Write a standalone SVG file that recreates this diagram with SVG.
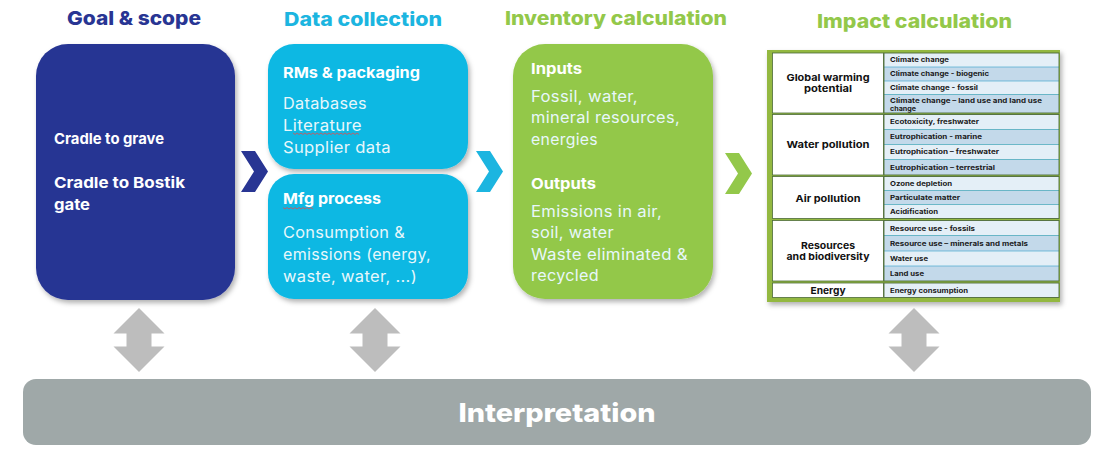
<svg xmlns="http://www.w3.org/2000/svg" width="1103" height="461" viewBox="0 0 1103 461">
<style>
text{font-family:"Inter","Open Sans","Liberation Sans",sans-serif}
.ti{font-size:19px;font-weight:800}
.h{font-size:15px;font-weight:700;fill:#fff}
.b{font-size:15.5px;fill:#e8f7fb;letter-spacing:.3px}
.c{font-size:9.5px;font-weight:700;fill:#111;text-anchor:middle}
.r{font-size:6.8px;font-weight:700;fill:#1a1a1a}
.l1{fill:#e4eff7}.l2{fill:#c3d9ea}
.sep{stroke:#2f9fc9;stroke-width:.6}
.ar{fill:#bdbdbd}
.sq{fill:none;stroke:#b8626c;stroke-width:1}
</style>
<defs>
<filter id="sh" x="-10%" y="-10%" width="125%" height="125%"><feDropShadow dx="2" dy="3" stdDeviation="2.500" flood-color="#000" flood-opacity=".3"/></filter>
<path id="udd" d="M0 0L25.500 25.500H12.500V38.500H25.500L0 64L-25.500 38.500H-12.500V25.500H-25.500Z"/>
<path id="chev" d="M0 0H14L27 20.500L14 41H0L13 20.500Z"/>
</defs>
<rect width="1103" height="461" fill="#fff"/>

<g id="titles">
<text class="ti" x="67" y="25" fill="#283593" textLength="134" lengthAdjust="spacingAndGlyphs">Goal &amp; scope</text>
<text class="ti" x="284" y="25.500" fill="#1cb5e0" textLength="158" lengthAdjust="spacingAndGlyphs">Data collection</text>
<text class="ti" x="505" y="25" fill="#93c84a" textLength="222" lengthAdjust="spacingAndGlyphs">Inventory calculation</text>
<text class="ti" x="817" y="28" fill="#93c84a" textLength="195" lengthAdjust="spacingAndGlyphs">Impact calculation</text>
</g>

<g id="goal-scope">
<rect x="36" y="44" width="199" height="256" rx="32" fill="#283593" filter="url(#sh)"/>
<text class="h" x="54" y="144" textLength="110" lengthAdjust="spacingAndGlyphs">Cradle to grave</text>
<text class="h" x="54" y="188" textLength="131" lengthAdjust="spacingAndGlyphs">Cradle to Bostik</text>
<text class="h" x="54" y="210" textLength="36" lengthAdjust="spacingAndGlyphs">gate</text>
</g>

<g id="rms-packaging">
<rect x="268" y="44" width="200" height="125" rx="26" fill="#0cb8e3" filter="url(#sh)"/>
<text class="h" x="283" y="78" textLength="137" lengthAdjust="spacingAndGlyphs">RMs &amp; packaging</text>
<text class="b" x="283" y="109" textLength="84" lengthAdjust="spacingAndGlyphs">Databases</text>
<text class="b" x="283" y="131" textLength="79" lengthAdjust="spacingAndGlyphs">Literature</text>
<path class="sq" d="M293 133l2 1.500 2-1.500 2 1.500 2-1.500 2 1.500 2-1.500 2 1.500 2-1.500 2 1.500 2-1.500 2 1.500 2-1.500 2 1.500 2-1.500 2 1.500 2-1.500 2 1.500 2-1.500 2 1.500 2-1.500 2 1.500 2-1.500 2 1.500 2-1.500 2 1.500 2-1.500 2 1.500 2-1.500 2 1.500 2-1.500 2 1.500 2-1.500 2 1.500"/>
<text class="b" x="283" y="153" textLength="108" lengthAdjust="spacingAndGlyphs">Supplier data</text>
</g>

<g id="mfg-process">
<rect x="268" y="174" width="200" height="125" rx="26" fill="#0cb8e3" filter="url(#sh)"/>
<text class="h" x="283" y="204" textLength="98" lengthAdjust="spacingAndGlyphs">Mfg process</text>
<path class="sq" d="M283 207.500l2 1.500 2-1.500 2 1.500 2-1.500 2 1.500 2-1.500 2 1.500 2-1.500 2 1.500 2-1.500 2 1.500 2-1.500 2 1.500 2-1.500 2 1.500"/>
<text class="b" x="283" y="238" textLength="122" lengthAdjust="spacingAndGlyphs">Consumption &amp;</text>
<text class="b" x="283" y="260" textLength="148" lengthAdjust="spacingAndGlyphs">emissions (energy,</text>
<text class="b" x="283" y="282" textLength="134" lengthAdjust="spacingAndGlyphs">waste, water, ...)</text>
</g>

<g id="inventory">
<rect x="513" y="44" width="200" height="255" rx="32" fill="#93c84a" filter="url(#sh)"/>
<text class="h" x="531" y="73.500" textLength="51" lengthAdjust="spacingAndGlyphs">Inputs</text>
<text class="b" x="531" y="102" textLength="107" lengthAdjust="spacingAndGlyphs">Fossil, water,</text>
<text class="b" x="531" y="123" textLength="149" lengthAdjust="spacingAndGlyphs">mineral resources,</text>
<text class="b" x="531" y="145" textLength="67" lengthAdjust="spacingAndGlyphs">energies</text>
<text class="h" x="531" y="188.500" textLength="65" lengthAdjust="spacingAndGlyphs">Outputs</text>
<text class="b" x="531" y="217" textLength="131" lengthAdjust="spacingAndGlyphs">Emissions in air,</text>
<text class="b" x="531" y="238" textLength="83" lengthAdjust="spacingAndGlyphs">soil, water</text>
<text class="b" x="531" y="260" textLength="157" lengthAdjust="spacingAndGlyphs">Waste eliminated &amp;</text>
<text class="b" x="531" y="281" textLength="68" lengthAdjust="spacingAndGlyphs">recycled</text>
</g>

<g id="impact-table">
<rect x="767" y="50" width="293" height="252" fill="#93b83f" filter="url(#sh)"/>
<g fill="#fff" stroke="#4d6b3a" stroke-width=".8">
<rect x="772.500" y="53" width="111" height="60"/>
<rect x="772.500" y="114.500" width="111" height="60.500"/>
<rect x="772.500" y="176.500" width="111" height="42"/>
<rect x="772.500" y="220.500" width="111" height="60.500"/>
<rect x="772.500" y="283" width="111" height="14.500"/>
</g>
<rect class="l1" x="884" y="53" width="175" height="14"/><rect class="l2" x="884" y="67" width="175" height="14"/>
<rect class="l1" x="884" y="81" width="175" height="13.500"/><rect class="l2" x="884" y="94.500" width="175" height="18.500"/>
<rect class="l1" x="884" y="114.500" width="175" height="15"/><rect class="l2" x="884" y="129.500" width="175" height="15"/>
<rect class="l1" x="884" y="144.500" width="175" height="15"/><rect class="l2" x="884" y="159.500" width="175" height="15.500"/>
<rect class="l1" x="884" y="176.500" width="175" height="14"/><rect class="l2" x="884" y="190.500" width="175" height="14"/>
<rect class="l1" x="884" y="204.500" width="175" height="14"/>
<rect class="l1" x="884" y="220.500" width="175" height="15"/><rect class="l2" x="884" y="235.500" width="175" height="15.500"/>
<rect class="l1" x="884" y="251" width="175" height="15"/><rect class="l2" x="884" y="266" width="175" height="15"/>
<rect class="l1" x="884" y="283" width="175" height="14.500"/>
<g class="sep">
<path d="M884 67H1059M884 81H1059M884 94.500H1059M884 129.500H1059M884 144.500H1059M884 159.500H1059M884 190.500H1059M884 204.500H1059M884 235.500H1059M884 251H1059M884 266H1059"/>
</g>
<g fill="none" stroke="#4d6b3a" stroke-width=".9">
<rect x="884" y="53" width="175" height="60"/><rect x="884" y="114.500" width="175" height="60.500"/>
<rect x="884" y="176.500" width="175" height="42"/><rect x="884" y="220.500" width="175" height="60.500"/><rect x="884" y="283" width="175" height="14.500"/>
</g>
<text class="c" x="828" y="80.500" textLength="83" lengthAdjust="spacingAndGlyphs">Global warming</text><text class="c" x="828" y="91.500" textLength="48" lengthAdjust="spacingAndGlyphs">potential</text>
<text class="c" x="828" y="148" textLength="83" lengthAdjust="spacingAndGlyphs">Water pollution</text>
<text class="c" x="828" y="201.500" textLength="65" lengthAdjust="spacingAndGlyphs">Air pollution</text>
<text class="c" x="828" y="248.500" textLength="54" lengthAdjust="spacingAndGlyphs">Resources</text><text class="c" x="828" y="260" textLength="83" lengthAdjust="spacingAndGlyphs">and biodiversity</text>
<text class="c" x="828" y="294" textLength="35" lengthAdjust="spacingAndGlyphs">Energy</text>
<text class="r" x="890" y="62" textLength="59" lengthAdjust="spacingAndGlyphs">Climate change</text>
<text class="r" x="890" y="76" textLength="99" lengthAdjust="spacingAndGlyphs">Climate change - biogenic</text>
<text class="r" x="890" y="90" textLength="88" lengthAdjust="spacingAndGlyphs">Climate change - fossil</text>
<text class="r" x="890" y="103" textLength="152" lengthAdjust="spacingAndGlyphs">Climate change – land use and land use</text>
<text class="r" x="890" y="110.500" textLength="26" lengthAdjust="spacingAndGlyphs">change</text>
<text class="r" x="890" y="124" textLength="89" lengthAdjust="spacingAndGlyphs">Ecotoxicity, freshwater</text>
<text class="r" x="890" y="139" textLength="92" lengthAdjust="spacingAndGlyphs">Eutrophication - marine</text>
<text class="r" x="890" y="154" textLength="109" lengthAdjust="spacingAndGlyphs">Eutrophication – freshwater</text>
<text class="r" x="890" y="170" textLength="105" lengthAdjust="spacingAndGlyphs">Eutrophication – terrestrial</text>
<text class="r" x="890" y="186" textLength="62" lengthAdjust="spacingAndGlyphs">Ozone depletion</text>
<text class="r" x="890" y="200" textLength="70" lengthAdjust="spacingAndGlyphs">Particulate matter</text>
<text class="r" x="890" y="214" textLength="48" lengthAdjust="spacingAndGlyphs">Acidification</text>
<text class="r" x="890" y="231" textLength="85" lengthAdjust="spacingAndGlyphs">Resource use - fossils</text>
<text class="r" x="890" y="246" textLength="138" lengthAdjust="spacingAndGlyphs">Resource use – minerals and metals</text>
<text class="r" x="890" y="261" textLength="38" lengthAdjust="spacingAndGlyphs">Water use</text>
<text class="r" x="890" y="276" textLength="34" lengthAdjust="spacingAndGlyphs">Land use</text>
<text class="r" x="890" y="293" textLength="78" lengthAdjust="spacingAndGlyphs">Energy consumption</text>
</g>

<g id="interpretation">
<rect x="23" y="379" width="1068" height="66" rx="13" fill="#9fa8a8"/>
<text x="557" y="422" text-anchor="middle" font-size="26" font-weight="800" fill="#fff" textLength="197" lengthAdjust="spacingAndGlyphs">Interpretation</text>
</g>

<g id="connectors">
<use href="#chev" x="241" y="151" fill="#283593"/>
<use href="#chev" x="476" y="151" fill="#1cb5e0"/>
<use href="#chev" x="725" y="153" fill="#93c84a"/>
<use href="#udd" x="139" y="308" class="ar"/>
<use href="#udd" x="375" y="308" class="ar"/>
<use href="#udd" x="914" y="308" class="ar"/>
</g>
</svg>
